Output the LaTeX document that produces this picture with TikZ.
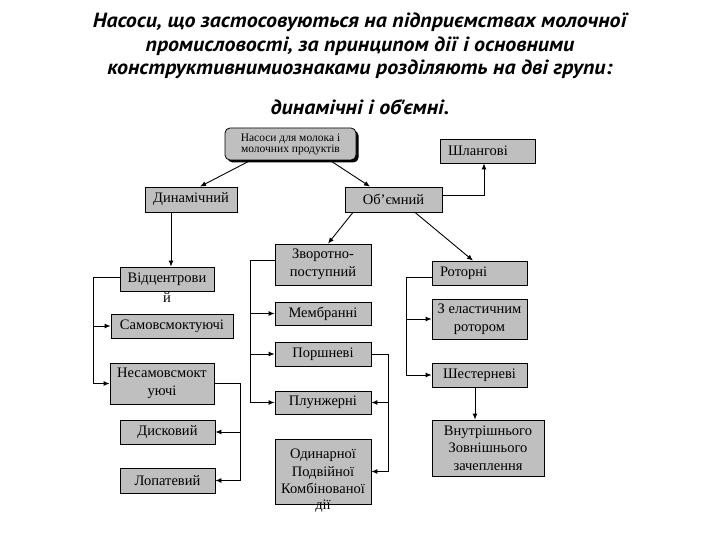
\documentclass[tikz,border=0pt]{standalone}
\usepackage{fontspec}
\setmainfont{Liberation Serif}
\newfontfamily\titlefont[FakeStretch=1.07]{PT Sans}
\usepackage{tikz}
\usetikzlibrary{arrows.meta,shadows}
\tikzstyle{blk}=[draw=black, fill=black!25, line width=0.8pt, inner sep=1pt,
  align=center, font=\fontsize{14.5}{17.5}\selectfont]
\tikzstyle{lblk}=[blk, inner xsep=8pt, text width=79pt, align=left]
\tikzstyle{arrow}=[-{Latex[length=6pt,width=5pt]}, line width=0.9pt]
\tikzstyle{line}=[line width=0.9pt]
\tikzstyle{ttl}=[align=center, font=\titlefont\bfseries\itshape\fontsize{20.5}{23.5}\selectfont]

\begin{document}
\begin{tikzpicture}[x=1pt,y=-1pt]
\useasboundingbox (0,0) rectangle (720,540);
% заголовок
\node[ttl] (title) at (360,46)
  {Насоси, що застосовуються на підприємствах молочної\\
   промисловості, за принципом дії і основними\\
   конструктивнимиознаками розділяють на дві групи:};
\node[ttl] (title2) at (360,107) {динамічні і об'ємні.};
% верхній рівень
\node[blk, rounded corners=5pt, minimum width=131pt, minimum height=32pt,
  font=\fontsize{11.5}{11}\selectfont,
  drop shadow={shadow xshift=2.5pt, shadow yshift=-2.5pt, fill=black, opacity=1}]
  (root) at (290.5,144) {Насоси для молока і\\молочних продуктів};
\node[lblk, minimum width=95pt, minimum height=24pt] (shl) at (487.5,151) {Шлангові};
\node[blk, minimum width=92pt, minimum height=25pt] (dyn) at (191,199.5) {Динамічний};
\node[blk, minimum width=97pt, minimum height=25pt] (vol) at (393.5,199.5) {Об'ємний};
% динамічні
\node[blk, minimum width=94pt, minimum height=24pt,
  label={[font=\fontsize{14.5}{17.5}\selectfont, anchor=center, yshift=-6pt]south:й}]
  (vid) at (167,279) {Відцентрови};
\node[blk, minimum width=122pt, minimum height=24pt] (sam) at (172,326) {Самовсмоктуючі};
\node[blk, minimum width=104pt, minimum height=41pt] (nesam) at (162,383.5) {Несамовсмокт\\уючі};
\node[blk, minimum width=95pt, minimum height=24pt] (disk) at (167.5,432) {Дисковий};
\node[blk, minimum width=95pt, minimum height=25pt] (lop) at (167.5,480.5) {Лопатевий};
% об'ємні
\node[blk, minimum width=96pt, minimum height=41pt] (zvor) at (323,264.5) {Зворотно-\\поступний};
\node[blk, minimum width=96pt, minimum height=23pt] (memb) at (323,313.5) {Мембранні};
\node[blk, minimum width=96pt, minimum height=24pt] (porsh) at (323,354) {Поршневі};
\node[blk, minimum width=96pt, minimum height=23pt] (plun) at (323,402.5) {Плунжерні};
\node[blk, minimum width=96pt, minimum height=65pt,
  label={[font=\fontsize{14.5}{17.5}\selectfont, anchor=center, yshift=-1.5pt]south:дії}]
  (odyn) at (323,471.5) {Одинарної\\Подвійної\\Комбінованої};
\node[lblk, minimum width=95pt, minimum height=24pt] (rot) at (479.5,273) {Роторні};
\node[blk, minimum width=95pt, minimum height=40pt] (elast) at (479.5,319) {З еластичним\\ротором};
\node[blk, minimum width=95pt, minimum height=24pt] (shest) at (479.5,375) {Шестерневі};
\node[blk, minimum width=112pt, minimum height=56pt] (vnut) at (488,448)
  {Внутрішнього\\Зовнішнього\\зачеплення};
% шини
\coordinate (lbus) at (93,0);
\coordinate (dbus) at (240,0);
\coordinate (mbus) at (250,0);
\coordinate (pbus) at (388,0);
\coordinate (rbus) at (406,0);
% стрілки
\draw[arrow] ([xshift=-40pt]root.south) -- ([xshift=9pt]dyn.north);
\draw[arrow] ([xshift=39.5pt]root.south) -- ([xshift=-23.5pt]vol.north);
\draw[arrow] ([yshift=4.5pt]vol.east) -| ([xshift=-3.5pt]shl.south);
\draw[arrow] ([xshift=-40.5pt]vol.south) -- ([xshift=5pt]zvor.north);
\draw[arrow] ([xshift=21.5pt]vol.south) -- ([xshift=-6.5pt]rot.north);
\draw[arrow] ([xshift=4pt]vid.north |- dyn.south) -- ([xshift=4pt]vid.north);
\draw[arrow] ([xshift=-4.5pt]shest.south) -- ([xshift=-4.5pt]shest.south |- vnut.north);
\draw[line] ([yshift=2pt]vid.west) -| (lbus |- nesam.west);
\foreach \t in {sam,nesam} \draw[arrow] (lbus |- \t.west) -- (\t.west);
\draw[line] (nesam.east) -| (dbus |- lop.east);
\foreach \t in {disk,lop} \draw[arrow] (dbus |- \t.east) -- (\t.east);
\draw[line] ([yshift=4.5pt]zvor.west) -| (mbus |- plun.west);
\foreach \t in {memb,porsh,plun} \draw[arrow] (mbus |- \t.west) -- (\t.west);
\draw[line] (porsh.east) -| (pbus |- odyn.east);
\foreach \t in {plun,odyn} \draw[arrow] (pbus |- \t.east) -- (\t.east);
\draw[line] ([yshift=-4pt]rot.west) -| (rbus |- shest.west);
\foreach \t in {elast,shest} \draw[arrow] (rbus |- \t.west) -- (\t.west);
\end{tikzpicture}
\end{document}
